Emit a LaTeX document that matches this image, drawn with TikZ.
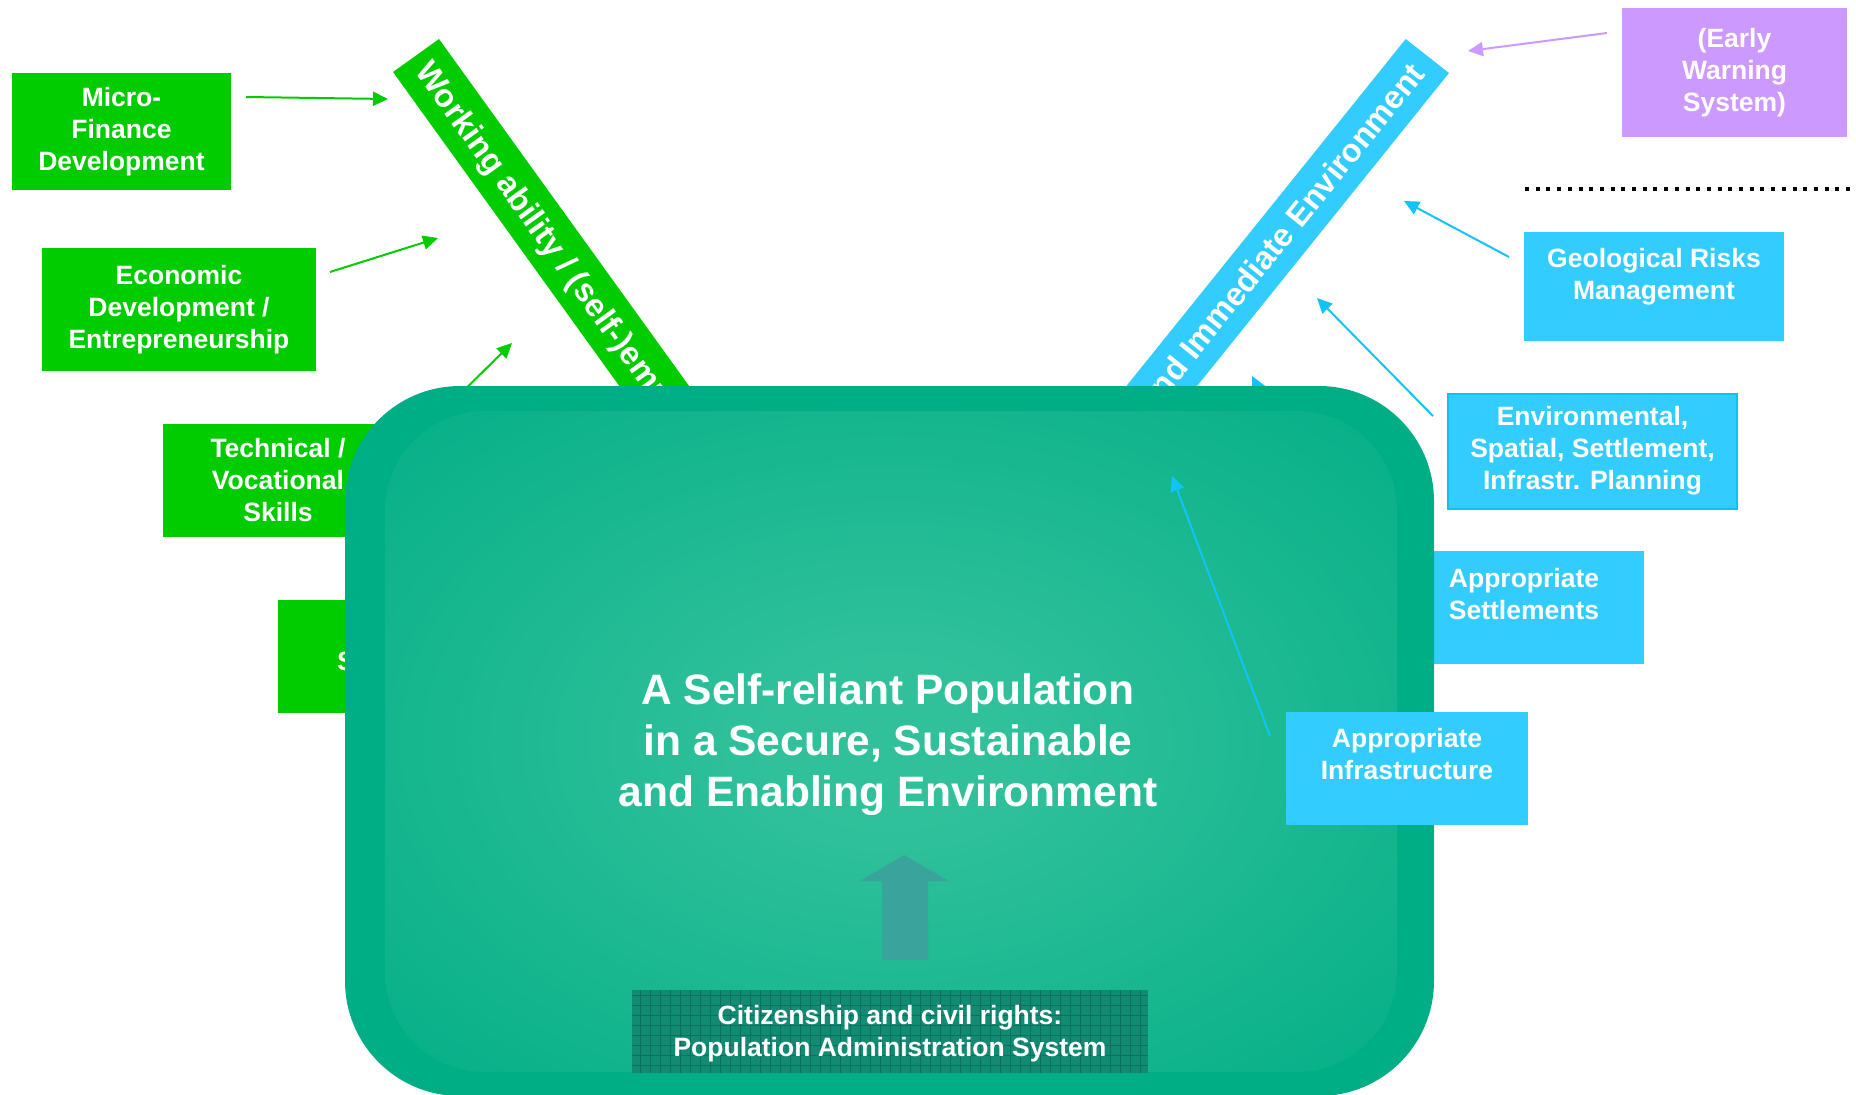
\documentclass[tikz,border=0pt]{standalone}
\usepackage{fontspec}
\setmainfont{Liberation Sans}
\usetikzlibrary{arrows.meta}
\definecolor{greenc}{HTML}{00CC00}
\definecolor{bluec}{HTML}{33CCFF}
\definecolor{bluel}{HTML}{11C4F7}
\definecolor{purplec}{HTML}{CC99FF}
\definecolor{envborder}{HTML}{0FC2F5}
\definecolor{mband}{HTML}{00AE86}
\definecolor{mcout}{HTML}{03AE86}
\definecolor{mcin}{HTML}{30C19B}
\definecolor{citc}{HTML}{128B73}
\definecolor{citgrid}{HTML}{0C6F5F}
\definecolor{uparr}{HTML}{3AA39B}
\newcommand{\myboxfont}{\fontsize{26.5}{32}\selectfont\bfseries}
\newcommand{\mybarfont}{\fontsize{32.5}{38}\selectfont\bfseries}
\newcommand{\mytitlefont}{\fontsize{42.5}{51}\selectfont\bfseries}
\pgfdeclareradialshading{mainshade}{\pgfpoint{0bp}{0bp}}{color(0bp)=(mcin); color(6bp)=(mcin); color(37bp)=(mcout); color(72bp)=(mcout)}
\begin{document}
\begin{tikzpicture}[x=1pt,y=-1pt,
  boxbase/.style={rectangle, inner sep=0pt, align=center, text=white, font=\myboxfont},
  greenbox/.style={boxbase, fill=greenc},
  bluebox/.style={boxbase, fill=bluec},
  purplebox/.style={boxbase, fill=purplec},
  txt/.style={inner sep=0pt, align=center, text=white, font=\myboxfont},
  bartxt/.style={inner sep=0pt, text=white, font=\mybarfont},
  arrowbase/.style={line width=2pt, -{Triangle[length=15pt,width=14pt]}},
  garrow/.style={arrowbase, draw=greenc, fill=greenc},
  barrow/.style={arrowbase, draw=bluel, fill=bluel},
  parrow/.style={arrowbase, draw=purplec, fill=purplec},
  gridline/.style={draw=citgrid, line width=0.7pt}]
\useasboundingbox (0,0) rectangle (1856,1095);

% diagonal bars
\fill[greenc] (439,39) -- (393,72) -- (744,559) -- (790,526) -- cycle;
\node[bartxt, anchor=base west, rotate=-54.2] (gbartxt) at (414,71.4) {Working ability / (self-)employment};
\fill[bluec] (1405.7,39) -- (1449,73) -- (1072.8,540.4) -- (1029.5,506.4) -- cycle;
\node[bartxt, anchor=base east, rotate=51.1] (bbartxt) at (1426.6,74.6) {and Immediate Environment};

% arrow end points
\coordinate (a1s) at (246,97);   \coordinate (a1e) at (388,99);
\coordinate (a2s) at (330,272);  \coordinate (a2e) at (438,238);
\coordinate (a3s) at (440,414);  \coordinate (a3e) at (512,343);
\coordinate (b1s) at (1509,257); \coordinate (b1e) at (1404,201);
\coordinate (b2s) at (1433,416); \coordinate (b2e) at (1317,298);
\coordinate (b3s) at (1356,580); \coordinate (b3e) at (1252,376);
\coordinate (b4s) at (1270,736); \coordinate (b4e) at (1172,476);
\coordinate (p1s) at (1607,33);  \coordinate (p1e) at (1468,51);

\draw[garrow] (a1s) -- (a1e);
\draw[garrow] (a2s) -- (a2e);
\draw[garrow] (a3s) -- (a3e);
\draw[barrow] (b1s) -- (b1e);
\draw[barrow] (b2s) -- (b2e);
\draw[barrow] (b3s) -- (b3e);
\draw[parrow] (p1s) -- (p1e);

% left green boxes
\node[greenbox, minimum width=219pt, minimum height=117pt] (micro) at (121.5,131.5) {Micro-\\Finance\\Development};
\node[greenbox, minimum width=274pt, minimum height=123pt] (econ) at (179,309.5) {Economic\\Development /\\Entrepreneurship};
\node[greenbox, minimum width=230pt, minimum height=113pt] (tech) at (278,480.5) {Technical /\\Vocational\\Skills};
\node[greenbox, minimum width=250pt, minimum height=113pt] (sbox) at (403,656.5) {};
\node[txt, anchor=base west] (stxt) at (337,670) {S};

% right boxes
\node[purplebox, minimum width=225pt, minimum height=129pt] (ews) at (1734.5,72.5) {(Early\\Warning\\System)};
\node[bluebox, minimum width=260pt, minimum height=109pt] (geo) at (1654,286.5) {};
\node[txt] (geotxt) at (1654,277) {Geological Risks\\Management};
\node[bluebox, draw=envborder, line width=2pt, minimum width=289pt, minimum height=115pt] (env) at (1592.5,451) {Environmental,\\Spatial, Settlement,\\Infrastr. Planning};
\node[bluebox, minimum width=240pt, minimum height=113pt] (sett) at (1524,607.5) {};
\node[txt] (setttxt) at (1524,594.2) {Appropriate\\Settlements};

% dotted separator
\coordinate (dots) at (1525,189); \coordinate (dote) at (1856,189);
\draw[line width=4pt, dash pattern=on 4pt off 6.7pt] (dots) -- (dote);

% main box
\fill[mband, rounded corners=115pt] (345,386) rectangle (1434,1096);
\shade[shading=mainshade, rounded corners=100pt] (385,411) rectangle (1397,1072);
\node[inner sep=0pt, align=center, text=white, font=\mytitlefont] (title) at (888,745) {A Self-reliant Population\\in a Secure, Sustainable\\and Enabling Environment};

% infrastructure box on top
\node[bluebox, minimum width=242pt, minimum height=113pt] (infra) at (1407,768.5) {};
\node[txt] (infratxt) at (1407,754.5) {Appropriate\\Infrastructure};
\draw[barrow] (b4s) -- (b4e);

% citizenship box
\node[rectangle, fill=citc, inner sep=0pt, minimum width=516pt, minimum height=83pt] (cit) at (890,1031.5) {};
\begin{scope}
\clip (632,990) rectangle (1148,1073);
\foreach \gx in {640,650,...,1140} {\draw[gridline] (\gx,990) -- (\gx,1073);}
\foreach \gy in {995,1005,...,1070} {\draw[gridline] (632,\gy) -- (1148,\gy);}
\end{scope}
\node[txt] (cittxt) at (890,1034) {Citizenship and civil rights:\\Population Administration System};

% up arrow
\fill[uparr] (882,960) -- (882,881) -- (860,881) -- (904,855) -- (949,881) -- (928,881) -- (928,960) -- cycle;
\end{tikzpicture}
\end{document}
